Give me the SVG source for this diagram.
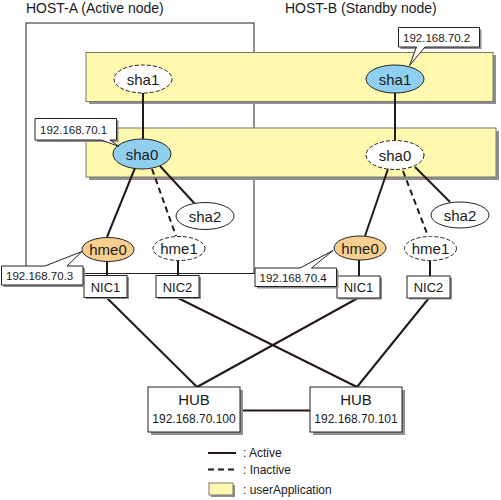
<svg xmlns="http://www.w3.org/2000/svg" width="501" height="500" viewBox="0 0 501 500">
<defs>
<style>
text{font-family:"Liberation Sans",Arial,sans-serif;fill:#1a1a1a}
.host{font-size:14px}
.el{font-size:15px;text-anchor:middle}
.ip{font-size:11.5px}
.nic{font-size:13px;text-anchor:middle}
.hub{font-size:15px;text-anchor:middle}
.hubip{font-size:12px;text-anchor:middle}
.leg{font-size:12px}
.app{fill:#fff9b0;stroke:#7a7a6a;stroke-width:1}
.sh{fill:#8f8f8f}
.box{fill:#fff;stroke:#222;stroke-width:1}
.ln{stroke:#231815;stroke-width:2;fill:none}
.dl{stroke:#231815;stroke-width:2;fill:none;stroke-dasharray:6,4}
.act{fill:#8fd0f0;stroke:#222;stroke-width:1}
.hm{fill:#f9cf90;stroke:#222;stroke-width:1}
.ina{fill:#fff;stroke:#222;stroke-width:1;stroke-dasharray:4,2}
.wht{fill:#fff;stroke:#222;stroke-width:1}
.call{fill:#fff;stroke:#222;stroke-width:1;stroke-linejoin:miter}
</style>
</defs>

<g id="hosts">
<rect x="26" y="23" width="228" height="250.5" fill="none" stroke="#222" stroke-width="1"/>
<text class="host" x="26" y="13">HOST-A (Active node)</text>
<text class="host" x="285" y="13">HOST-B (Standby node)</text>
</g>

<g id="userApplication1">
<rect class="sh" x="89" y="55" width="407" height="49"/>
<rect class="app" x="86" y="52.5" width="407" height="49"/>
</g>
<g id="userApplication2">
<rect class="sh" x="89" y="131" width="410" height="49"/>
<rect class="app" x="86" y="128" width="410" height="49"/>
</g>

<g id="connectors">
<line class="ln" x1="143" y1="93" x2="143" y2="139"/>
<line class="ln" x1="395" y1="93" x2="395" y2="140"/>
<line class="ln" x1="135" y1="168" x2="107" y2="237"/>
<line class="dl" x1="152" y1="169" x2="176" y2="236"/>
<line class="ln" x1="160" y1="166" x2="195" y2="204"/>
<line class="ln" x1="107" y1="261" x2="107" y2="275"/>
<line class="ln" x1="178" y1="261" x2="178" y2="275"/>
<line class="ln" x1="388" y1="169" x2="365" y2="236"/>
<line class="dl" x1="403" y1="171" x2="428" y2="236"/>
<line class="ln" x1="415" y1="167" x2="450" y2="202"/>
<line class="ln" x1="359" y1="260" x2="359" y2="276"/>
<line class="ln" x1="430" y1="260" x2="430" y2="276"/>
<line class="ln" x1="107" y1="298" x2="197" y2="387"/>
<line class="ln" x1="358" y1="298" x2="197" y2="387"/>
<line class="ln" x1="178" y1="298" x2="357" y2="387"/>
<line class="ln" x1="429" y1="298" x2="357" y2="387"/>
<line class="ln" x1="240" y1="410.5" x2="310" y2="410.5"/>
</g>

<g id="sha1-A"><ellipse class="ina" cx="143" cy="79" rx="29" ry="14"/><text class="el" x="143" y="84.5">sha1</text></g>
<g id="sha1-B"><ellipse class="act" cx="395" cy="79" rx="29" ry="14"/><text class="el" x="395" y="84.5">sha1</text></g>
<g id="sha0-A"><ellipse class="act" cx="142" cy="154" rx="29" ry="15"/><text class="el" x="142" y="159.5">sha0</text></g>
<g id="sha0-B"><ellipse class="ina" cx="395" cy="155" rx="29" ry="14.5"/><text class="el" x="395" y="160.5">sha0</text></g>
<g id="sha2-A"><ellipse class="wht" cx="205" cy="216" rx="29" ry="13.5"/><text class="el" x="205" y="221.5">sha2</text></g>
<g id="sha2-B"><ellipse class="wht" cx="460" cy="215" rx="29" ry="13"/><text class="el" x="460" y="220.5">sha2</text></g>
<g id="hme0-A"><ellipse class="hm" cx="108" cy="249.5" rx="26" ry="12"/><text class="el" x="108" y="255">hme0</text></g>
<g id="hme1-A"><ellipse class="ina" cx="179" cy="248.5" rx="26" ry="12"/><text class="el" x="179" y="254">hme1</text></g>
<g id="hme0-B"><ellipse class="hm" cx="360" cy="248" rx="26" ry="12"/><text class="el" x="360" y="253.5">hme0</text></g>
<g id="hme1-B"><ellipse class="ina" cx="430.5" cy="248.5" rx="26" ry="12"/><text class="el" x="430.5" y="254">hme1</text></g>

<g id="NIC1-A"><rect class="sh" x="86" y="277" width="43" height="22"/><rect class="box" x="84" y="275.5" width="43" height="22"/><text class="nic" x="105.5" y="291.5">NIC1</text></g>
<g id="NIC2-A"><rect class="sh" x="158" y="277" width="43" height="22"/><rect class="box" x="156" y="275.5" width="43" height="22"/><text class="nic" x="177.5" y="291.5">NIC2</text></g>
<g id="NIC1-B"><rect class="sh" x="339" y="277.5" width="43" height="22"/><rect class="box" x="337" y="276" width="43" height="22"/><text class="nic" x="358.5" y="292">NIC1</text></g>
<g id="NIC2-B"><rect class="sh" x="409" y="277.5" width="43" height="22"/><rect class="box" x="407" y="276" width="43" height="22"/><text class="nic" x="428.5" y="292">NIC2</text></g>

<g id="ip-70-1">
<path class="sh" d="M37,120.5 H118.5 V142 H37 Z"/>
<path class="call" d="M35,118.5 H116.5 V140 H110 L119,146.5 L101.5,140 H35 Z"/>
<text class="ip" x="40" y="134">192.168.70.1</text>
</g>
<g id="ip-70-2">
<path class="sh" d="M400.5,29.5 H481.5 V49 H400.5 Z"/>
<path class="call" d="M398.5,27.5 H479.5 V47 H425 L409.5,65.5 L416.5,47 H398.5 Z"/>
<text class="ip" x="403" y="42">192.168.70.2</text>
</g>
<g id="ip-70-3">
<path class="sh" d="M3.5,268 H85 V287 H3.5 Z"/>
<path class="call" d="M1.5,266 H45 L82,251.5 L67,266 H83 V285 H1.5 Z"/>
<text class="ip" x="6" y="280">192.168.70.3</text>
</g>
<g id="ip-70-4">
<path class="sh" d="M257,270 H338.5 V288.5 H257 Z"/>
<path class="call" d="M255,268 H300 L333,250.5 L311.5,268 H336.5 V286.5 H255 Z"/>
<text class="ip" x="259.5" y="282">192.168.70.4</text>
</g>

<g id="HUB-1"><rect class="sh" x="151" y="390" width="92" height="45"/><rect class="box" x="148" y="387" width="92" height="45"/><text class="hub" x="194" y="405">HUB</text><text class="hubip" x="194" y="423">192.168.70.100</text></g>
<g id="HUB-2"><rect class="sh" x="313" y="390" width="92" height="45"/><rect class="box" x="310" y="387" width="92" height="45"/><text class="hub" x="356" y="405">HUB</text><text class="hubip" x="356" y="423">192.168.70.101</text></g>

<g id="legend">
<line class="ln" x1="208" y1="453" x2="236" y2="453"/>
<text class="leg" x="243" y="456.5">: Active</text>
<line class="dl" x1="208" y1="469.5" x2="236" y2="469.5"/>
<text class="leg" x="243" y="474">: Inactive</text>
<rect class="sh" x="211" y="485" width="24" height="12"/>
<rect class="app" x="209" y="483" width="24" height="12"/>
<text class="leg" x="243" y="493.5">: userApplication</text>
</g>
</svg>
